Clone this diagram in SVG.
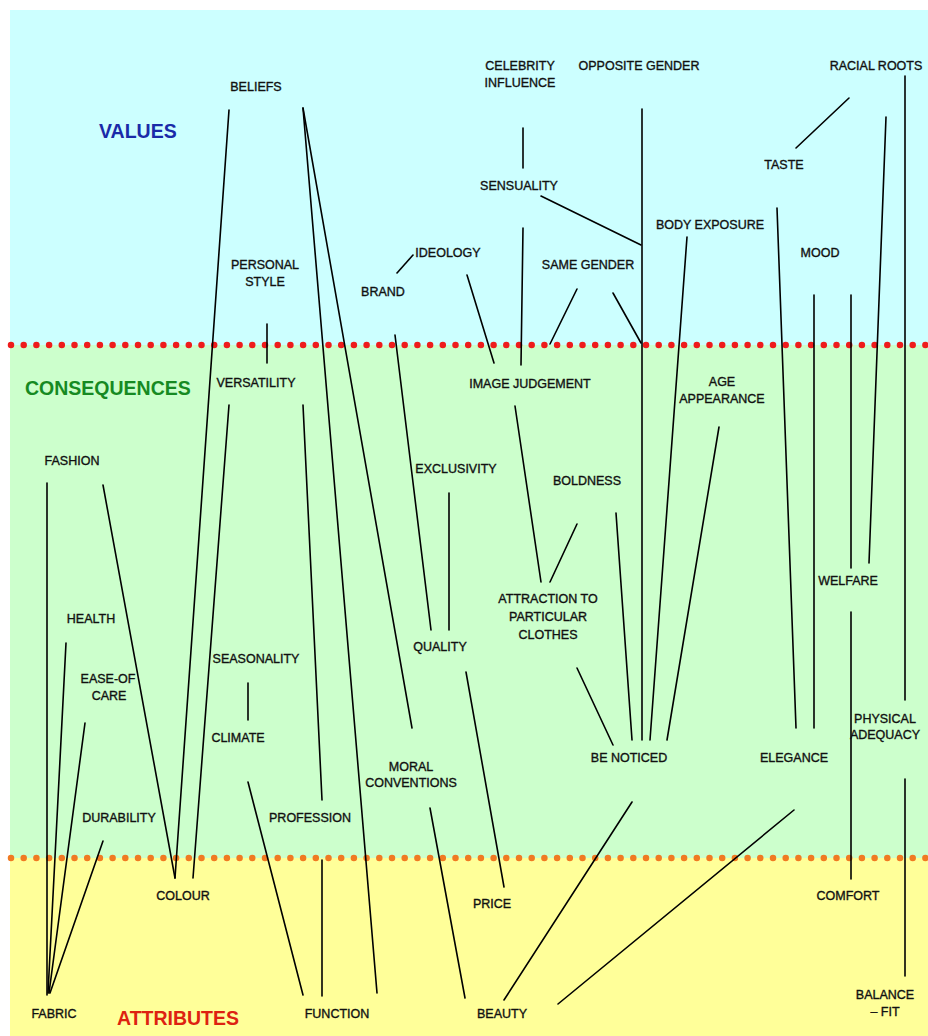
<svg xmlns="http://www.w3.org/2000/svg" width="928" height="1036" viewBox="0 0 928 1036">
<style>
.t{font-family:"Liberation Sans",Arial,sans-serif;font-size:12.5px;fill:#111;stroke:#111;stroke-width:0.35;text-anchor:middle}
.h{font-family:"Liberation Sans",Arial,sans-serif;font-size:19.5px;font-weight:bold}
.c line{stroke:#000;stroke-width:1.6;stroke-linecap:round}
.dot{stroke-width:6.5;stroke-linecap:round;stroke-dasharray:0 12.7;fill:none}
</style>
<rect x="0" y="0" width="928" height="1036" fill="#ffffff"/>
<rect x="10" y="10" width="918" height="335" fill="#ccffff"/>
<rect x="10" y="345" width="918" height="513" fill="#ccffcc"/>
<rect x="10" y="858" width="918" height="178" fill="#ffff99"/>
<line class="dot" x1="11" y1="345" x2="928" y2="345" stroke="#ee1c1c"/>
<line class="dot" x1="11" y1="858" x2="928" y2="858" stroke="#f07a22"/>
<text class="h" x="99" y="138" fill="#1a2aa8">VALUES</text>
<text class="h" x="25" y="395" fill="#168a22">CONSEQUENCES</text>
<text class="h" x="117" y="1025" fill="#dd2211">ATTRIBUTES</text>
<g class="c" id="connectors">
<line x1="229" y1="110" x2="175" y2="878"/>
<line x1="303" y1="108" x2="377" y2="993"/>
<line x1="303" y1="108" x2="412" y2="728"/>
<line x1="267" y1="324" x2="267" y2="363"/>
<line x1="229" y1="405" x2="193" y2="878"/>
<line x1="303" y1="405" x2="322" y2="800"/>
<line x1="103" y1="485" x2="175" y2="878"/>
<line x1="47" y1="483" x2="47" y2="995"/>
<line x1="66" y1="643" x2="48" y2="993"/>
<line x1="85" y1="723" x2="49" y2="993"/>
<line x1="103" y1="841" x2="50" y2="993"/>
<line x1="248" y1="683" x2="248" y2="720"/>
<line x1="248" y1="782" x2="303" y2="995"/>
<line x1="322" y1="860" x2="322" y2="996"/>
<line x1="397" y1="273" x2="413" y2="255"/>
<line x1="395" y1="335" x2="431" y2="630"/>
<line x1="449" y1="493" x2="449" y2="630"/>
<line x1="466" y1="672" x2="504" y2="887"/>
<line x1="430" y1="808" x2="465" y2="998"/>
<line x1="467" y1="275" x2="494" y2="363"/>
<line x1="523" y1="128" x2="523" y2="168"/>
<line x1="523" y1="228" x2="521" y2="365"/>
<line x1="541" y1="196" x2="641" y2="245"/>
<line x1="642" y1="109" x2="642" y2="740"/>
<line x1="577" y1="289" x2="550" y2="344"/>
<line x1="613" y1="293" x2="641" y2="343"/>
<line x1="687" y1="237" x2="650" y2="740"/>
<line x1="719" y1="427" x2="667" y2="740"/>
<line x1="616" y1="513" x2="632" y2="740"/>
<line x1="515" y1="406" x2="541" y2="582"/>
<line x1="577" y1="524" x2="550" y2="582"/>
<line x1="577" y1="668" x2="613" y2="745"/>
<line x1="632" y1="802" x2="504" y2="1000"/>
<line x1="794" y1="810" x2="558" y2="1004"/>
<line x1="796" y1="148" x2="849" y2="98"/>
<line x1="777" y1="208" x2="796" y2="728"/>
<line x1="814" y1="295" x2="814" y2="728"/>
<line x1="851" y1="295" x2="851" y2="568"/>
<line x1="886" y1="117" x2="869" y2="563"/>
<line x1="905" y1="76" x2="905" y2="700"/>
<line x1="851" y1="612" x2="851" y2="879"/>
<line x1="905" y1="779" x2="905" y2="976"/>
</g>
<g id="beliefs"><text class="t" x="256" y="91">BELIEFS</text></g>
<g id="personal-style"><text class="t" x="265" y="269">PERSONAL</text><text class="t" x="265" y="286">STYLE</text></g>
<g id="brand"><text class="t" x="383" y="296">BRAND</text></g>
<g id="ideology"><text class="t" x="448" y="257">IDEOLOGY</text></g>
<g id="celebrity-influence"><text class="t" x="520" y="70">CELEBRITY</text><text class="t" x="520" y="87">INFLUENCE</text></g>
<g id="opposite-gender"><text class="t" x="639" y="70">OPPOSITE GENDER</text></g>
<g id="racial-roots"><text class="t" x="876" y="70">RACIAL ROOTS</text></g>
<g id="sensuality"><text class="t" x="519" y="190">SENSUALITY</text></g>
<g id="taste"><text class="t" x="784" y="169">TASTE</text></g>
<g id="body-exposure"><text class="t" x="710" y="229">BODY EXPOSURE</text></g>
<g id="mood"><text class="t" x="820" y="257">MOOD</text></g>
<g id="same-gender"><text class="t" x="588" y="269">SAME GENDER</text></g>
<g id="versatility"><text class="t" x="256" y="387">VERSATILITY</text></g>
<g id="fashion"><text class="t" x="72" y="465">FASHION</text></g>
<g id="exclusivity"><text class="t" x="456" y="473">EXCLUSIVITY</text></g>
<g id="health"><text class="t" x="91" y="623">HEALTH</text></g>
<g id="quality"><text class="t" x="440" y="651">QUALITY</text></g>
<g id="seasonality"><text class="t" x="256" y="663">SEASONALITY</text></g>
<g id="ease-of-care"><text class="t" x="108" y="683">EASE-OF</text><text class="t" x="109" y="700">CARE</text></g>
<g id="image-judgement"><text class="t" x="530" y="388">IMAGE JUDGEMENT</text></g>
<g id="age-appearance"><text class="t" x="722" y="386">AGE</text><text class="t" x="722" y="403">APPEARANCE</text></g>
<g id="boldness"><text class="t" x="587" y="485">BOLDNESS</text></g>
<g id="welfare"><text class="t" x="848" y="585">WELFARE</text></g>
<g id="attraction"><text class="t" x="548" y="603">ATTRACTION TO</text><text class="t" x="548" y="621">PARTICULAR</text><text class="t" x="548" y="639">CLOTHES</text></g>
<g id="climate"><text class="t" x="238" y="742">CLIMATE</text></g>
<g id="moral-conventions"><text class="t" x="411" y="771">MORAL</text><text class="t" x="411" y="787">CONVENTIONS</text></g>
<g id="durability"><text class="t" x="119" y="822">DURABILITY</text></g>
<g id="profession"><text class="t" x="310" y="822">PROFESSION</text></g>
<g id="be-noticed"><text class="t" x="629" y="762">BE NOTICED</text></g>
<g id="elegance"><text class="t" x="794" y="762">ELEGANCE</text></g>
<g id="physical-adequacy"><text class="t" x="885" y="723">PHYSICAL</text><text class="t" x="885" y="739">ADEQUACY</text></g>
<g id="colour"><text class="t" x="183" y="900">COLOUR</text></g>
<g id="price"><text class="t" x="492" y="908">PRICE</text></g>
<g id="comfort"><text class="t" x="848" y="900">COMFORT</text></g>
<g id="fabric"><text class="t" x="54" y="1018">FABRIC</text></g>
<g id="function"><text class="t" x="337" y="1018">FUNCTION</text></g>
<g id="beauty"><text class="t" x="502" y="1018">BEAUTY</text></g>
<g id="balance-fit"><text class="t" x="885" y="999">BALANCE</text><text class="t" x="885" y="1016">– FIT</text></g>
</svg>
